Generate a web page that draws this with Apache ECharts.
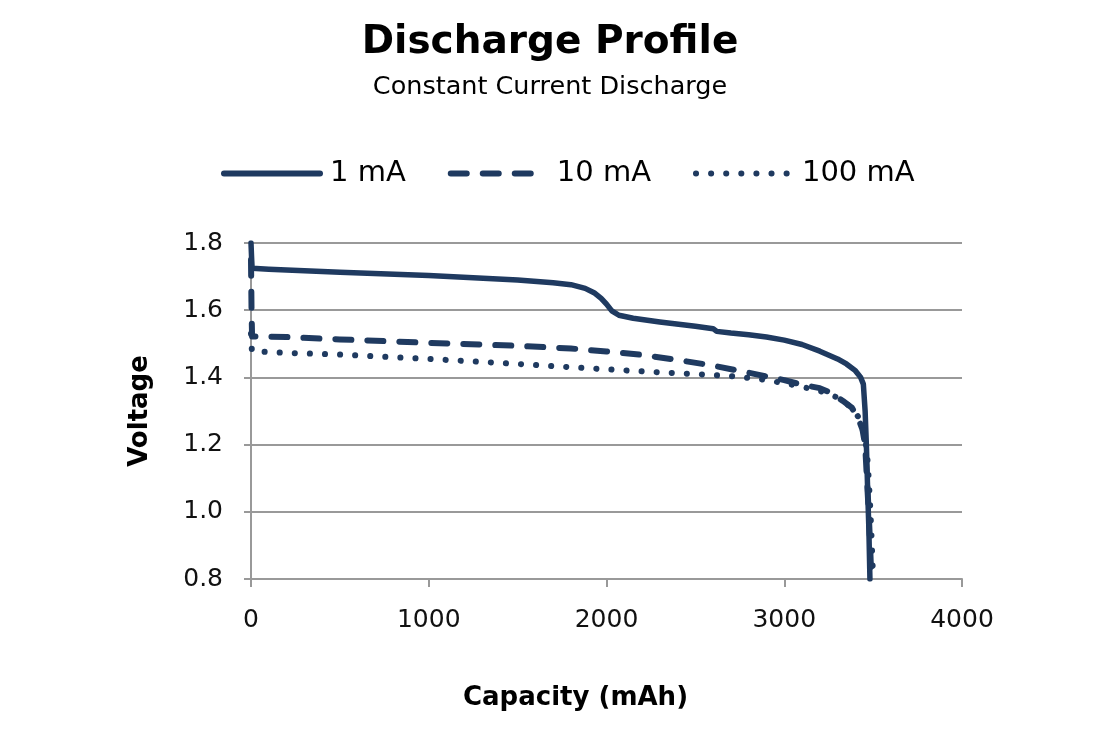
<!DOCTYPE html>
<html>
<head>
<meta charset="utf-8">
<script src="https://cdn.jsdelivr.net/npm/echarts@6/dist/echarts.min.js"></script>
<style>html,body{margin:0;padding:0;background:#fff}#c{width:1100px;height:750px}</style>
</head>
<body>
<div id="c"></div>
<script>
var seriesNames = ['1 mA', '10 mA', '100 mA'];
var xTicks = [0, 1000, 2000, 3000, 4000];
var yTicks = [0.8, 1.0, 1.2, 1.4, 1.6, 1.8];

var cap1mA  = [0, 3, 6, 100, 500, 1000, 1500, 1700, 1800, 1880, 1930, 1970, 2000, 2030, 2070, 2150, 2300, 2500, 2600, 2620, 2700, 2800, 2900, 3000, 3100, 3200, 3300, 3350, 3400, 3430, 3445, 3455, 3462, 3470, 3476, 3482];
var volt1mA = [1.80, 1.76, 1.725, 1.722, 1.713, 1.703, 1.690, 1.682, 1.676, 1.665, 1.652, 1.635, 1.618, 1.598, 1.585, 1.576, 1.565, 1.552, 1.545, 1.537, 1.532, 1.527, 1.520, 1.511, 1.498, 1.478, 1.455, 1.440, 1.420, 1.400, 1.380, 1.300, 1.200, 1.050, 0.950, 0.800];

var cap10mA  = [0, 3, 6, 200, 500, 1000, 1500, 1800, 2000, 2200, 2400, 2600, 2800, 3000, 3100, 3200, 3260, 3330, 3380, 3415, 3440, 3455, 3465, 3475, 3483, 3490];
var volt10mA = [1.75, 1.60, 1.522, 1.520, 1.513, 1.503, 1.494, 1.486, 1.477, 1.467, 1.452, 1.435, 1.414, 1.392, 1.378, 1.368, 1.355, 1.330, 1.310, 1.280, 1.245, 1.200, 1.100, 1.000, 0.900, 0.800];

var cap100mA  = [0, 5, 200, 500, 1000, 1500, 2000, 2300, 2500, 2700, 2850, 3000, 3100, 3200, 3300, 3380, 3420, 3450, 3465, 3475, 3485, 3493, 3500];
var volt100mA = [1.53, 1.478, 1.473, 1.468, 1.455, 1.440, 1.424, 1.415, 1.410, 1.404, 1.396, 1.383, 1.372, 1.360, 1.340, 1.310, 1.280, 1.230, 1.180, 1.100, 1.000, 0.900, 0.800];

function pairs(xs, ys) { return xs.map(function (x, i) { return [x, ys[i]]; }); }

var navy = '#1f3a60';
var font = 'DejaVu Sans';
var chart = echarts.init(document.getElementById('c'), null, {renderer: 'canvas'});
chart.setOption({
  animation: false,
  backgroundColor: '#ffffff',
  title: [
    {text: 'Discharge Profile', left: 'center', top: 18,
     textStyle: {fontFamily: font, fontSize: 39, fontWeight: 'bold', color: '#000'}},
    {text: 'Constant Current Discharge', left: 'center', top: 69,
     textStyle: {fontFamily: font, fontSize: 25.5, fontWeight: 'normal', color: '#000'}}
  ],
  legend: {
    left: 216, top: 154,
    itemWidth: 96, itemHeight: 30, itemGap: 42,
    data: seriesNames,
    itemStyle: {opacity: 0},
    lineStyle: {width: 6, cap: 'round'},
    textStyle: {fontFamily: font, fontSize: 29, color: '#000', padding: [0, 0, 0, 5]}
  },
  grid: {left: 251, right: 138, top: 243, bottom: 171},
  xAxis: {
    type: 'value', min: 0, max: 4000, interval: 1000,
    name: 'Capacity (mAh)', nameLocation: 'middle', nameGap: 106,
    nameTextStyle: {fontFamily: font, fontSize: 26, fontWeight: 'bold', color: '#000', padding: [0, 62, 0, 0]},
    axisLine: {show: true, onZero: false, lineStyle: {color: '#999', width: 2}},
    axisTick: {show: true, length: 8, lineStyle: {color: '#999', width: 2}},
    axisLabel: {fontFamily: font, fontSize: 25, color: '#111', margin: 29,
      formatter: function (v) { return xTicks.indexOf(v) >= 0 ? String(v) : ''; }},
    splitLine: {show: false}
  },
  yAxis: {
    type: 'value', min: 0.8, max: 1.8, interval: 0.2,
    name: 'Voltage', nameLocation: 'middle', nameGap: 98, nameRotate: 90,
    nameTextStyle: {fontFamily: font, fontSize: 26, fontWeight: 'bold', color: '#000'},
    axisLine: {show: true, lineStyle: {color: '#999', width: 2}},
    axisTick: {show: true, length: 7, lineStyle: {color: '#999', width: 2}},
    axisLabel: {fontFamily: font, fontSize: 25, color: '#111', margin: 28,
      formatter: function (v) { return v.toFixed(1); }},
    splitLine: {show: true, lineStyle: {color: '#999', width: 2}}
  },
  series: [
    {name: seriesNames[0], type: 'line', symbol: 'none', data: pairs(cap1mA, volt1mA),
     lineStyle: {color: navy, width: 5.5, type: 'solid', cap: 'round', join: 'round'}, itemStyle: {color: navy}},
    {name: seriesNames[1], type: 'line', symbol: 'none', data: pairs(cap10mA, volt10mA),
     lineStyle: {color: navy, width: 6, type: [16, 16], cap: 'round', join: 'round'}, itemStyle: {color: navy}},
    {name: seriesNames[2], type: 'line', symbol: 'none', data: pairs(cap100mA, volt100mA),
     lineStyle: {color: navy, width: 6, type: [0.1, 15], cap: 'round', join: 'round'}, itemStyle: {color: navy}}
  ]
});
</script>
</body>
</html>
